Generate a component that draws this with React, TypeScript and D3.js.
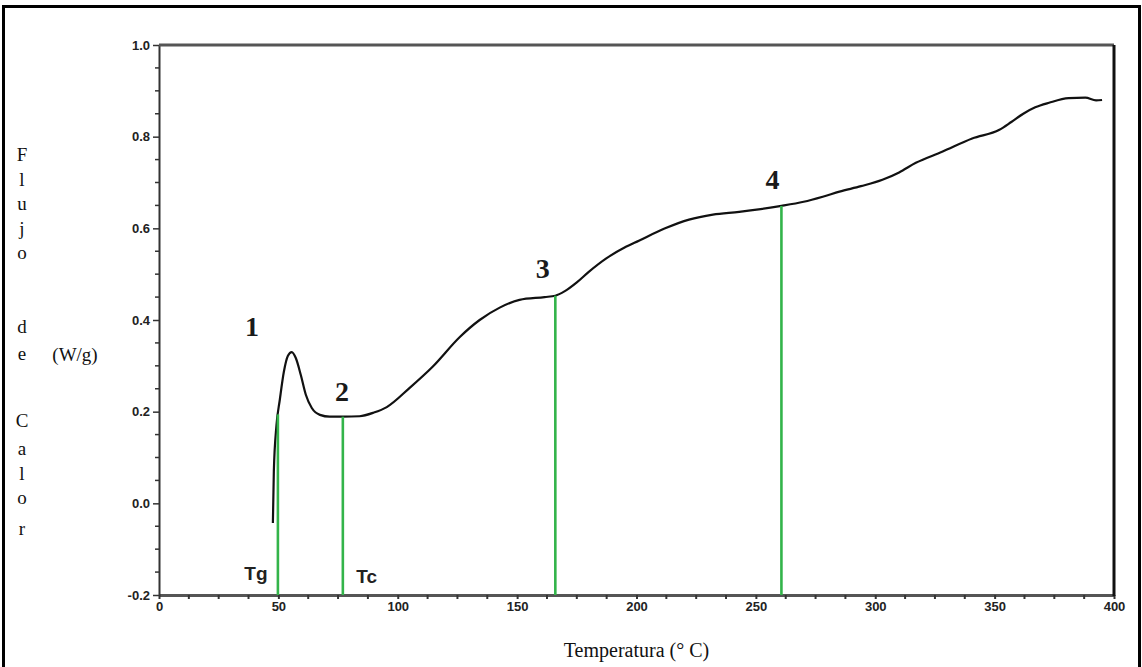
import React, { useEffect, useRef } from 'react';
import * as d3 from 'd3';

// DSC curve: temperature (°C) and heat flow (W/g)
const temps = [47.7, 48.1, 49.2, 50.6, 52.3, 54.0, 55.6, 57.3, 59.4, 61.5, 64.0, 67.4, 71.5, 77.0, 84.0, 90.0, 95.4, 105, 114.6, 126, 134.3, 142.7, 151, 161.5, 166, 170, 175, 180, 187.5, 195, 201, 212, 222, 232, 243, 252, 260.7, 270, 278, 285, 294, 303, 310, 317, 328, 340.6, 352, 357, 362, 367, 372.8, 381, 388, 392.5, 395];
const flux = [-0.043, 0.07, 0.17, 0.226, 0.287, 0.322, 0.33, 0.317, 0.28, 0.237, 0.208, 0.193, 0.189, 0.189, 0.19, 0.198, 0.21, 0.252, 0.298, 0.363, 0.4, 0.427, 0.444, 0.45, 0.453, 0.463, 0.482, 0.505, 0.535, 0.558, 0.573, 0.6, 0.619, 0.63, 0.636, 0.642, 0.649, 0.658, 0.669, 0.68, 0.692, 0.706, 0.722, 0.743, 0.767, 0.796, 0.815, 0.832, 0.85, 0.864, 0.874, 0.884, 0.885, 0.879, 0.88];

// green marker lines at these temperatures
const markerTemps = [49.8, 77, 166, 260.7];
const markerLabels = ['1', '2', '3', '4'];
const markerLabelT = [39, 76.6, 160.7, 257];
const markerLabelV = [0.38, 0.237, 0.505, 0.7];

const tempLabels = ['Tg', 'Tc'];
const tempLabelT = [40.6, 87];
const tempLabelV = [-0.156, -0.163];

const xTicks = [0, 50, 100, 150, 200, 250, 300, 350, 400];
const yTicks = [-0.2, 0.0, 0.2, 0.4, 0.6, 0.8, 1.0];
const yTitleLetters = ['F', 'l', 'u', 'j', 'o', 'd', 'e', 'C', 'a', 'l', 'o', 'r'];
// vertical slot of each letter (in letter heights), words separated by gaps
const yTitleSlots = [0, 1, 2, 3, 4, 7, 8.1, 10.8, 11.95, 12.95, 13.95, 15.2];

const App = () => {
  const svgRef = useRef<SVGSVGElement>(null);

  useEffect(() => {
    const width = 1142;
    const height = 667;
    const left = 159, right = 1114, top = 45, bottom = 595;

    const svg = d3.select(svgRef.current);
    svg.selectAll('*').remove();

    svg.append('rect').attr('width', width).attr('height', height).attr('fill', '#fff');
    // outer frame
    svg.append('rect')
      .attr('x', 3.5).attr('y', 6.5).attr('width', 1136).attr('height', 670)
      .attr('fill', 'none').attr('stroke', '#000').attr('stroke-width', 3);

    const x = d3.scaleLinear().domain([0, 400]).range([left, right]);
    const y = d3.scaleLinear().domain([-0.2, 1.0]).range([bottom, top]);

    const tickFont = "'Liberation Sans Narrow', 'Liberation Sans', Arial, sans-serif";
    const serif = "'Liberation Serif', 'Times New Roman', serif";

    // x axis
    const xAxis = svg.append('g')
      .attr('transform', `translate(0,${bottom})`)
      .call(d3.axisBottom(x).tickValues(xTicks).tickSize(4).tickSizeOuter(0).tickFormat(d3.format('d')))
      .call(g => g.select('.domain').attr('stroke', '#555').attr('stroke-width', 3));
    xAxis.selectAll('.tick line').attr('stroke', '#333').attr('stroke-width', 2);
    xAxis.selectAll('.tick text')
      .attr('font-family', tickFont).attr('font-weight', 'bold').attr('font-size', 13)
      .attr('fill', '#222').attr('y', 7);
    // minor x ticks
    svg.append('g').selectAll('line')
      .data(d3.range(0, 401, 12.5).filter(v => v % 50 !== 0))
      .join('line')
      .attr('x1', d => x(d)).attr('x2', d => x(d))
      .attr('y1', bottom).attr('y2', bottom + 4)
      .attr('stroke', '#333').attr('stroke-width', 2);

    // y axis
    const yAxis = svg.append('g')
      .attr('transform', `translate(${left},0)`)
      .call(d3.axisLeft(y).tickValues(yTicks).tickSize(6).tickSizeOuter(0)
        .tickFormat(d => d3.format('.1f')(d as number).replace('−', '-')))
      .call(g => g.select('.domain').attr('stroke', '#333').attr('stroke-width', 2));
    yAxis.selectAll('.tick line').attr('stroke', '#333').attr('stroke-width', 1.5);
    yAxis.selectAll('.tick text')
      .attr('font-family', tickFont).attr('font-weight', 'bold').attr('font-size', 13)
      .attr('fill', '#222').attr('x', -9);
    svg.append('g').selectAll('line')
      .data(d3.range(0, 25).map(i => -0.2 + i * 0.05).filter((v, i) => i % 4 !== 0))
      .join('line')
      .attr('x1', left - 4).attr('x2', left)
      .attr('y1', d => y(d)).attr('y2', d => y(d))
      .attr('stroke', '#333').attr('stroke-width', 1.5);

    // top and right frame of the plot
    svg.append('line').attr('x1', left).attr('x2', right).attr('y1', top).attr('y2', top)
      .attr('stroke', '#555').attr('stroke-width', 3);
    svg.append('line').attr('x1', right).attr('x2', right).attr('y1', top).attr('y2', bottom + 1)
      .attr('stroke', '#111').attr('stroke-width', 3);

    // curve
    const pts = temps.map((t, i) => [t, flux[i]] as [number, number]);
    const line = d3.line<[number, number]>()
      .x(d => x(d[0])).y(d => y(d[1]))
      .curve(d3.curveMonotoneX);

    // value of the curve at a temperature
    const bis = d3.bisector((d: [number, number]) => d[0]).left;
    const at = (t: number) => {
      const i = Math.max(1, Math.min(pts.length - 1, bis(pts, t)));
      const a = pts[i - 1], b = pts[i];
      return a[1] + (b[1] - a[1]) * (t - a[0]) / (b[0] - a[0]);
    };

    svg.append('path')
      .attr('fill', 'none').attr('stroke', '#111').attr('stroke-width', 2.2)
      .attr('stroke-linejoin', 'round')
      .attr('d', line(pts));

    // green markers
    svg.append('g').selectAll('line')
      .data(markerTemps)
      .join('line')
      .attr('x1', d => x(d)).attr('x2', d => x(d))
      .attr('y1', bottom).attr('y2', d => y(at(d)))
      .attr('stroke', '#33b44a').attr('stroke-width', 2.6);

    svg.append('g').selectAll('text')
      .data(markerLabels)
      .join('text')
      .attr('x', (d, i) => x(markerLabelT[i])).attr('y', (d, i) => y(markerLabelV[i]))
      .attr('text-anchor', 'middle').attr('dominant-baseline', 'middle')
      .attr('font-family', serif)
      .attr('font-weight', 'bold').attr('font-size', 28).attr('fill', '#1a1a1a')
      .text(d => d);

    svg.append('g').selectAll('text')
      .data(tempLabels)
      .join('text')
      .attr('x', (d, i) => x(tempLabelT[i])).attr('y', (d, i) => y(tempLabelV[i]))
      .attr('text-anchor', 'middle').attr('dominant-baseline', 'middle')
      .attr('font-family', "'Liberation Sans', Arial, sans-serif")
      .attr('font-weight', 'bold').attr('font-size', 19).attr('fill', '#222')
      .text(d => d);

    // axis titles
    svg.append('text')
      .attr('x', x(200)).attr('y', 657)
      .attr('text-anchor', 'middle')
      .attr('font-family', serif)
      .attr('font-size', 20).attr('fill', '#111')
      .text('Temperatura (° C)');

    svg.append('g').selectAll('text')
      .data(yTitleLetters)
      .join('text')
      .attr('x', 22).attr('y', (d, i) => 161 + yTitleSlots[i] * 24.6)
      .attr('text-anchor', 'middle')
      .attr('font-family', serif)
      .attr('font-size', 19).attr('fill', '#111')
      .text(d => d);

    svg.append('text')
      .attr('x', 75).attr('y', 361)
      .attr('text-anchor', 'middle')
      .attr('font-family', serif)
      .attr('font-size', 19).attr('fill', '#111')
      .text('(W/g)');
  }, []);

  return (
    <svg ref={svgRef} width={1142} height={667}
      style={{ position: 'absolute', left: 0, top: 0, display: 'block' }} />
  );
};

export default App;
